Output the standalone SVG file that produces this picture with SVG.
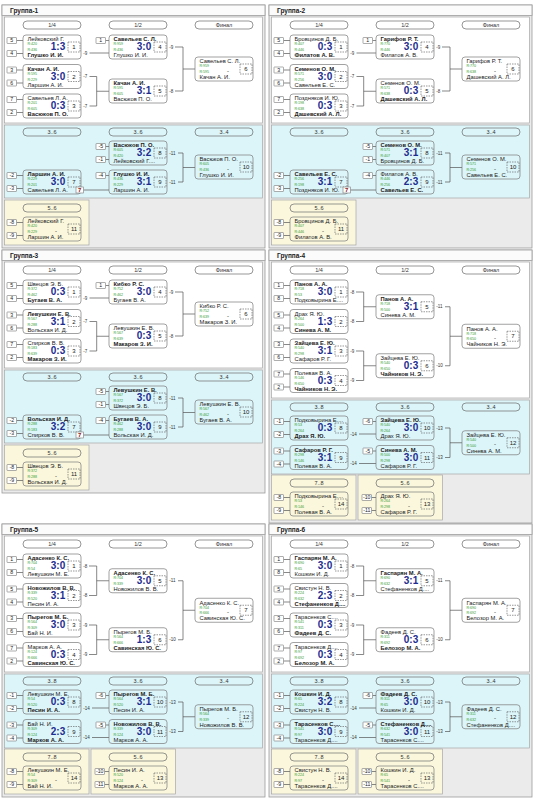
<svg xmlns="http://www.w3.org/2000/svg" xmlns:xlink="http://www.w3.org/1999/xlink" width="534" height="800" viewBox="0 0 534 800">
<style>
text{font-family:"Liberation Sans",Arial,sans-serif;fill:#222}
.bg{fill:#fff}
.fr{fill:#ebebeb;stroke:#9c9c9c;stroke-width:.8}
.hd{fill:#fbfbfb;stroke:#9c9c9c;stroke-width:.8}
.ti{font-size:6.5px;font-weight:bold}
.pw{fill:#fff;stroke:#a5a5a5;stroke-width:.7}
.pb{fill:#dcf5f9;stroke:#a5a5a5;stroke-width:.7}
.py{fill:#fbf7dc;stroke:#a5a5a5;stroke-width:.7}
.pl{fill:none;stroke:#6a6a6a;stroke-width:.7}
.pt{font-size:5.5px;text-anchor:middle;fill:#333}
.mb{fill:none;stroke:#7a7a7a;stroke-width:.7}
.nb{fill:none;stroke:#555;stroke-width:.6;stroke-dasharray:1.5 1}
.sb{fill:#fff;stroke:#777;stroke-width:.6}
.st{font-size:5.2px;text-anchor:middle}
.n{font-size:5.8px}
.b{font-weight:bold}
.r{font-size:3.6px;fill:#2e9a2e}
.s{font-size:10px;font-weight:bold;fill:#1d2c8f;text-anchor:middle}
.nn{font-size:6px;text-anchor:middle}
.d{font-size:6px;text-anchor:middle}
.c{fill:none;stroke:#555;stroke-width:.7}
.l{font-size:4.5px;fill:#333}
.w7{font-size:6px;font-weight:bold;fill:#8b1c1c;text-anchor:middle}
</style>
<defs>
<rect id="mb" class="mb" width="58" height="24" rx="3"/>
<rect id="nb" class="nb" x="45" y="7" width="12" height="10"/>
<rect id="sb" class="sb" width="9.5" height="6" rx="0.5"/>
<rect id="pl" class="pl" width="58" height="8" rx="4"/>
</defs>
<rect class="bg" width="534" height="800"/>

<!-- ================= GROUP 1 ================= -->
<g id="group1" transform="translate(2,5)">
<rect class="fr" width="263" height="243"/>
<rect class="hd" width="263" height="10.5"/>
<text class="ti" x="8" y="8">Группа-1</text>
<rect class="pw" x="2.5" y="12" width="258" height="106"/>
<rect class="pb" x="2.5" y="120" width="258" height="73"/>
<rect class="py" x="2.5" y="195" width="84.5" height="45"/>
<g id="g1-rounds">
<use href="#pl" x="21" y="16"/><text class="pt" x="50" y="22">1/4</text>
<use href="#pl" x="107" y="16"/><text class="pt" x="136" y="22">1/2</text>
<use href="#pl" x="193" y="16"/><text class="pt" x="222" y="22">Финал</text>
<use href="#pl" x="21" y="123"/><text class="pt" x="50" y="129">3..6</text>
<use href="#pl" x="107" y="123"/><text class="pt" x="136" y="129">3..6</text>
<use href="#pl" x="193" y="123"/><text class="pt" x="222" y="129">3..4</text>
<use href="#pl" x="21" y="199"/><text class="pt" x="50" y="205">5..6</text>
</g>
<g id="g1-connectors">
<path class="c" d="M14.5 35.5H21M14.5 48.5H21M14.5 65H21M14.5 78H21M14.5 94.5H21M14.5 107.5H21M103.5 35.5H107M14.5 170.5H21M14.5 183.5H21M103.5 141.5H107M103.5 154.5H107M103.5 170.5H107M14.5 217.5H21M14.5 230.5H21"/>
<path class="c" d="M87.5 48H107M87.5 71.5H94.7V101H87.5M94.7 86.25H107M173 42H181V86H173M181 64H193M81.5 185H107M176 148H181V177H176M181 162.5H193"/>
<text class="l" x="81.3" y="49.5">-9</text><text class="l" x="81.3" y="73">-7</text><text class="l" x="81.3" y="102.5">-7</text>
<text class="l" x="167.3" y="43.5">-9</text><text class="l" x="167.3" y="87.5">-8</text>
<text class="l" x="167.3" y="149.5">-11</text><text class="l" x="167.3" y="178.5">-11</text>
</g>
<g id="g1-m1" transform="translate(21,30)"><use href="#mb"/><use href="#nb"/><text class="nn" x="51" y="14.2">1</text><text class="n" x="4.5" y="6.3">Лейковский Г.</text><text class="r" x="4.5" y="10.3">R:420</text><text class="r" x="4.5" y="16">R:436</text><text class="s" x="35" y="15.3">1:3</text><text class="n b" x="4.5" y="22">Глушко И. И.</text><use href="#sb" x="-16" y="2.5"/><text class="st" x="-11.25" y="7.3">5</text><use href="#sb" x="-16" y="15.5"/><text class="st" x="-11.25" y="20.3">4</text></g>
<g id="g1-m2" transform="translate(21,59.5)"><use href="#mb"/><use href="#nb"/><text class="nn" x="51" y="14.2">2</text><text class="n b" x="4.5" y="6.3">Качан А. И.</text><text class="r" x="4.5" y="10.3">R:595</text><text class="r" x="4.5" y="16">R:229</text><text class="s" x="35" y="15.3">3:0</text><text class="n" x="4.5" y="22">Ларшин А. И.</text><use href="#sb" x="-16" y="2.5"/><text class="st" x="-11.25" y="7.3">3</text><use href="#sb" x="-16" y="15.5"/><text class="st" x="-11.25" y="20.3">6</text></g>
<g id="g1-m3" transform="translate(21,89)"><use href="#mb"/><use href="#nb"/><text class="nn" x="51" y="14.2">3</text><text class="n" x="4.5" y="6.3">Савельев Л. А.</text><text class="r" x="4.5" y="10.3">R:201</text><text class="r" x="4.5" y="16">R:605</text><text class="s" x="35" y="15.3">0:3</text><text class="n b" x="4.5" y="22">Васюков П. О.</text><use href="#sb" x="-16" y="2.5"/><text class="st" x="-11.25" y="7.3">7</text><use href="#sb" x="-16" y="15.5"/><text class="st" x="-11.25" y="20.3">2</text></g>
<g id="g1-m4" transform="translate(107,30)"><use href="#mb"/><use href="#nb"/><text class="nn" x="51" y="14.2">4</text><text class="n b" x="4.5" y="6.3">Савельев С. Л.</text><text class="r" x="4.5" y="10.3">R:959</text><text class="r" x="4.5" y="16">R:436</text><text class="s" x="35" y="15.3">3:0</text><text class="n" x="4.5" y="22">Глушко И. И.</text><use href="#sb" x="-13" y="2.5"/><text class="st" x="-8.25" y="7.3">1</text></g>
<g id="g1-m5" transform="translate(107,74)"><use href="#mb"/><use href="#nb"/><text class="nn" x="51" y="14.2">5</text><text class="n b" x="4.5" y="6.3">Качан А. И.</text><text class="r" x="4.5" y="10.3">R:595</text><text class="r" x="4.5" y="16">R:605</text><text class="s" x="35" y="15.3">3:1</text><text class="n" x="4.5" y="22">Васюков П. О.</text></g>
<g id="g1-m6" transform="translate(193,52)"><use href="#mb"/><use href="#nb"/><text class="nn" x="51" y="14.2">6</text><text class="n" x="4.5" y="6.3">Савельев С. Л.</text><text class="r" x="4.5" y="10.3">R:959</text><text class="r" x="4.5" y="16">R:595</text><text class="d" x="33" y="15.5">-</text><text class="n" x="4.5" y="22">Качан А. И.</text></g>
<g id="g1-m7" transform="translate(21,165)"><use href="#mb"/><use href="#nb"/><text class="nn" x="51" y="14.2">7</text><text class="n b" x="4.5" y="6.3">Ларшин А. И.</text><text class="r" x="4.5" y="10.3">R:229</text><text class="r" x="4.5" y="16">R:201</text><text class="s" x="35" y="15.3">3:0</text><text class="n" x="4.5" y="22">Савельев Л. А.</text><use href="#sb" x="-16" y="2.5"/><text class="st" x="-11.25" y="7.3">-2</text><use href="#sb" x="-16" y="15.5"/><text class="st" x="-11.25" y="20.3">-3</text></g>
<g id="g1-w7"><rect class="sb" x="74" y="182" width="7.5" height="6"/><text class="w7" x="77.75" y="187">7</text></g>
<g id="g1-m8" transform="translate(107,136)"><use href="#mb"/><use href="#nb"/><text class="nn" x="51" y="14.2">8</text><text class="n b" x="4.5" y="6.3">Васюков П. О.</text><text class="r" x="4.5" y="10.3">R:605</text><text class="r" x="4.5" y="16">R:420</text><text class="s" x="35" y="15.3">3:2</text><text class="n" x="4.5" y="22">Лейковский Г....</text><use href="#sb" x="-13" y="2.5"/><text class="st" x="-8.25" y="7.3">-5</text><use href="#sb" x="-13" y="15.5"/><text class="st" x="-8.25" y="20.3">-1</text></g>
<g id="g1-m9" transform="translate(107,165)"><use href="#mb"/><use href="#nb"/><text class="nn" x="51" y="14.2">9</text><text class="n b" x="4.5" y="6.3">Глушко И. И.</text><text class="r" x="4.5" y="10.3">R:436</text><text class="r" x="4.5" y="16">R:229</text><text class="s" x="35" y="15.3">3:1</text><text class="n" x="4.5" y="22">Ларшин А. И.</text><use href="#sb" x="-13" y="2.5"/><text class="st" x="-8.25" y="7.3">-4</text></g>
<g id="g1-m10" transform="translate(193,150)"><use href="#mb"/><use href="#nb"/><text class="nn" x="51" y="14.2">10</text><text class="n" x="4.5" y="6.3">Васюков П. О.</text><text class="r" x="4.5" y="10.3">R:605</text><text class="r" x="4.5" y="16">R:436</text><text class="d" x="33" y="15.5">-</text><text class="n" x="4.5" y="22">Глушко И. И.</text></g>
<g id="g1-m11" transform="translate(21,212)"><use href="#mb"/><use href="#nb"/><text class="nn" x="51" y="14.2">11</text><text class="n" x="4.5" y="6.3">Лейковский Г.</text><text class="r" x="4.5" y="10.3">R:420</text><text class="r" x="4.5" y="16">R:229</text><text class="d" x="33" y="15.5">-</text><text class="n" x="4.5" y="22">Ларшин А. И.</text><use href="#sb" x="-16" y="2.5"/><text class="st" x="-11.25" y="7.3">-8</text><use href="#sb" x="-16" y="15.5"/><text class="st" x="-11.25" y="20.3">-9</text></g>
</g>

<!-- ================= GROUP 2 ================= -->
<g id="group2" transform="translate(269,5)">
<rect class="fr" width="263" height="243"/>
<rect class="hd" width="263" height="10.5"/>
<text class="ti" x="8" y="8">Группа-2</text>
<rect class="pw" x="2.5" y="12" width="258" height="106"/>
<rect class="pb" x="2.5" y="120" width="258" height="73"/>
<rect class="py" x="2.5" y="195" width="84.5" height="45"/>
<g id="g2-rounds">
<use href="#pl" x="21" y="16"/><text class="pt" x="50" y="22">1/4</text>
<use href="#pl" x="107" y="16"/><text class="pt" x="136" y="22">1/2</text>
<use href="#pl" x="193" y="16"/><text class="pt" x="222" y="22">Финал</text>
<use href="#pl" x="21" y="123"/><text class="pt" x="50" y="129">3..6</text>
<use href="#pl" x="107" y="123"/><text class="pt" x="136" y="129">3..6</text>
<use href="#pl" x="193" y="123"/><text class="pt" x="222" y="129">3..4</text>
<use href="#pl" x="21" y="199"/><text class="pt" x="50" y="205">5..6</text>
</g>
<g id="g2-connectors">
<path class="c" d="M14.5 35.5H21M14.5 48.5H21M14.5 65H21M14.5 78H21M14.5 94.5H21M14.5 107.5H21M103.5 35.5H107M14.5 170.5H21M14.5 183.5H21M103.5 141.5H107M103.5 154.5H107M103.5 170.5H107M14.5 217.5H21M14.5 230.5H21"/>
<path class="c" d="M87.5 48H107M87.5 71.5H94.7V101H87.5M94.7 86.25H107M173 42H181V86H173M181 64H193M81.5 185H107M176 148H181V177H176M181 162.5H193"/>
<text class="l" x="81.3" y="49.5">-9</text><text class="l" x="81.3" y="73">-7</text><text class="l" x="81.3" y="102.5">-7</text>
<text class="l" x="167.3" y="43.5">-9</text><text class="l" x="167.3" y="87.5">-8</text>
<text class="l" x="167.3" y="149.5">-11</text><text class="l" x="167.3" y="178.5">-11</text>
</g>
<g id="g2-m1" transform="translate(21,30)"><use href="#mb"/><use href="#nb"/><text class="nn" x="51" y="14.2">1</text><text class="n" x="4.5" y="6.3">Бровцинов Д. Б.</text><text class="r" x="4.5" y="10.3">R:407</text><text class="r" x="4.5" y="16">R:446</text><text class="s" x="35" y="15.3">0:3</text><text class="n b" x="4.5" y="22">Филатов А. В.</text><use href="#sb" x="-16" y="2.5"/><text class="st" x="-11.25" y="7.3">5</text><use href="#sb" x="-16" y="15.5"/><text class="st" x="-11.25" y="20.3">4</text></g>
<g id="g2-m2" transform="translate(21,59.5)"><use href="#mb"/><use href="#nb"/><text class="nn" x="51" y="14.2">2</text><text class="n b" x="4.5" y="6.3">Семенов О. М.</text><text class="r" x="4.5" y="10.3">R:571</text><text class="r" x="4.5" y="16">R:256</text><text class="s" x="35" y="15.3">3:0</text><text class="n" x="4.5" y="22">Савельев Е. С.</text><use href="#sb" x="-16" y="2.5"/><text class="st" x="-11.25" y="7.3">3</text><use href="#sb" x="-16" y="15.5"/><text class="st" x="-11.25" y="20.3">6</text></g>
<g id="g2-m3" transform="translate(21,89)"><use href="#mb"/><use href="#nb"/><text class="nn" x="51" y="14.2">3</text><text class="n" x="4.5" y="6.3">Поздняков И. Ю.</text><text class="r" x="4.5" y="10.3">R:198</text><text class="r" x="4.5" y="16">R:638</text><text class="s" x="35" y="15.3">0:3</text><text class="n b" x="4.5" y="22">Дашевский А. Л.</text><use href="#sb" x="-16" y="2.5"/><text class="st" x="-11.25" y="7.3">7</text><use href="#sb" x="-16" y="15.5"/><text class="st" x="-11.25" y="20.3">2</text></g>
<g id="g2-m4" transform="translate(107,30)"><use href="#mb"/><use href="#nb"/><text class="nn" x="51" y="14.2">4</text><text class="n b" x="4.5" y="6.3">Гарифов Р. Т.</text><text class="r" x="4.5" y="10.3">R:770</text><text class="r" x="4.5" y="16">R:446</text><text class="s" x="35" y="15.3">3:0</text><text class="n" x="4.5" y="22">Филатов А. В.</text><use href="#sb" x="-13" y="2.5"/><text class="st" x="-8.25" y="7.3">1</text></g>
<g id="g2-m5" transform="translate(107,74)"><use href="#mb"/><use href="#nb"/><text class="nn" x="51" y="14.2">5</text><text class="n" x="4.5" y="6.3">Семенов О. М.</text><text class="r" x="4.5" y="10.3">R:571</text><text class="r" x="4.5" y="16">R:638</text><text class="s" x="35" y="15.3">0:3</text><text class="n b" x="4.5" y="22">Дашевский А. Л.</text></g>
<g id="g2-m6" transform="translate(193,52)"><use href="#mb"/><use href="#nb"/><text class="nn" x="51" y="14.2">6</text><text class="n" x="4.5" y="6.3">Гарифов Р. Т.</text><text class="r" x="4.5" y="10.3">R:770</text><text class="r" x="4.5" y="16">R:638</text><text class="d" x="33" y="15.5">-</text><text class="n" x="4.5" y="22">Дашевский А. Л.</text></g>
<g id="g2-m7" transform="translate(21,165)"><use href="#mb"/><use href="#nb"/><text class="nn" x="51" y="14.2">7</text><text class="n b" x="4.5" y="6.3">Савельев Е. С.</text><text class="r" x="4.5" y="10.3">R:256</text><text class="r" x="4.5" y="16">R:198</text><text class="s" x="35" y="15.3">3:1</text><text class="n" x="4.5" y="22">Поздняков И. Ю.</text><use href="#sb" x="-16" y="2.5"/><text class="st" x="-11.25" y="7.3">-2</text><use href="#sb" x="-16" y="15.5"/><text class="st" x="-11.25" y="20.3">-3</text></g>
<g id="g2-w7"><rect class="sb" x="74" y="182" width="7.5" height="6"/><text class="w7" x="77.75" y="187">7</text></g>
<g id="g2-m8" transform="translate(107,136)"><use href="#mb"/><use href="#nb"/><text class="nn" x="51" y="14.2">8</text><text class="n b" x="4.5" y="6.3">Семенов О. М.</text><text class="r" x="4.5" y="10.3">R:571</text><text class="r" x="4.5" y="16">R:407</text><text class="s" x="35" y="15.3">3:1</text><text class="n" x="4.5" y="22">Бровцинов Д. Б.</text><use href="#sb" x="-13" y="2.5"/><text class="st" x="-8.25" y="7.3">-5</text><use href="#sb" x="-13" y="15.5"/><text class="st" x="-8.25" y="20.3">-1</text></g>
<g id="g2-m9" transform="translate(107,165)"><use href="#mb"/><use href="#nb"/><text class="nn" x="51" y="14.2">9</text><text class="n" x="4.5" y="6.3">Филатов А. В.</text><text class="r" x="4.5" y="10.3">R:446</text><text class="r" x="4.5" y="16">R:256</text><text class="s" x="35" y="15.3">2:3</text><text class="n b" x="4.5" y="22">Савельев Е. С.</text><use href="#sb" x="-13" y="2.5"/><text class="st" x="-8.25" y="7.3">-4</text></g>
<g id="g2-m10" transform="translate(193,150)"><use href="#mb"/><use href="#nb"/><text class="nn" x="51" y="14.2">10</text><text class="n" x="4.5" y="6.3">Семенов О. М.</text><text class="r" x="4.5" y="10.3">R:571</text><text class="r" x="4.5" y="16">R:256</text><text class="d" x="33" y="15.5">-</text><text class="n" x="4.5" y="22">Савельев Е. С.</text></g>
<g id="g2-m11" transform="translate(21,212)"><use href="#mb"/><use href="#nb"/><text class="nn" x="51" y="14.2">11</text><text class="n" x="4.5" y="6.3">Бровцинов Д. Б.</text><text class="r" x="4.5" y="10.3">R:407</text><text class="r" x="4.5" y="16">R:446</text><text class="d" x="33" y="15.5">-</text><text class="n" x="4.5" y="22">Филатов А. В.</text><use href="#sb" x="-16" y="2.5"/><text class="st" x="-11.25" y="7.3">-8</text><use href="#sb" x="-16" y="15.5"/><text class="st" x="-11.25" y="20.3">-9</text></g>
</g>

<!-- ================= GROUP 3 ================= -->
<g id="group3" transform="translate(2,250)">
<rect class="fr" width="263" height="243"/>
<rect class="hd" width="263" height="10.5"/>
<text class="ti" x="8" y="8">Группа-3</text>
<rect class="pw" x="2.5" y="12" width="258" height="106"/>
<rect class="pb" x="2.5" y="120" width="258" height="73"/>
<rect class="py" x="2.5" y="195" width="84.5" height="45"/>
<g id="g3-rounds">
<use href="#pl" x="21" y="16"/><text class="pt" x="50" y="22">1/4</text>
<use href="#pl" x="107" y="16"/><text class="pt" x="136" y="22">1/2</text>
<use href="#pl" x="193" y="16"/><text class="pt" x="222" y="22">Финал</text>
<use href="#pl" x="21" y="123"/><text class="pt" x="50" y="129">3..6</text>
<use href="#pl" x="107" y="123"/><text class="pt" x="136" y="129">3..6</text>
<use href="#pl" x="193" y="123"/><text class="pt" x="222" y="129">3..4</text>
<use href="#pl" x="21" y="199"/><text class="pt" x="50" y="205">5..6</text>
</g>
<g id="g3-connectors">
<path class="c" d="M14.5 35.5H21M14.5 48.5H21M14.5 65H21M14.5 78H21M14.5 94.5H21M14.5 107.5H21M103.5 35.5H107M14.5 170.5H21M14.5 183.5H21M103.5 141.5H107M103.5 154.5H107M103.5 170.5H107M14.5 217.5H21M14.5 230.5H21"/>
<path class="c" d="M87.5 48H107M87.5 71.5H94.7V101H87.5M94.7 86.25H107M173 42H181V86H173M181 64H193M81.5 185H107M176 148H181V177H176M181 162.5H193"/>
<text class="l" x="81.3" y="49.5">-9</text><text class="l" x="81.3" y="73">-7</text><text class="l" x="81.3" y="102.5">-7</text>
<text class="l" x="167.3" y="43.5">-9</text><text class="l" x="167.3" y="87.5">-8</text>
<text class="l" x="167.3" y="149.5">-11</text><text class="l" x="167.3" y="178.5">-11</text>
</g>
<g id="g3-m1" transform="translate(21,30)"><use href="#mb"/><use href="#nb"/><text class="nn" x="51" y="14.2">1</text><text class="n" x="4.5" y="6.3">Швецов Э. Б.</text><text class="r" x="4.5" y="10.3">R:372</text><text class="r" x="4.5" y="16">R:462</text><text class="s" x="35" y="15.3">0:3</text><text class="n b" x="4.5" y="22">Бугаев В. А.</text><use href="#sb" x="-16" y="2.5"/><text class="st" x="-11.25" y="7.3">5</text><use href="#sb" x="-16" y="15.5"/><text class="st" x="-11.25" y="20.3">4</text></g>
<g id="g3-m2" transform="translate(21,59.5)"><use href="#mb"/><use href="#nb"/><text class="nn" x="51" y="14.2">2</text><text class="n b" x="4.5" y="6.3">Левушкин Е. В.</text><text class="r" x="4.5" y="10.3">R:567</text><text class="r" x="4.5" y="16">R:288</text><text class="s" x="35" y="15.3">3:1</text><text class="n" x="4.5" y="22">Вольская И. Д.</text><use href="#sb" x="-16" y="2.5"/><text class="st" x="-11.25" y="7.3">3</text><use href="#sb" x="-16" y="15.5"/><text class="st" x="-11.25" y="20.3">6</text></g>
<g id="g3-m3" transform="translate(21,89)"><use href="#mb"/><use href="#nb"/><text class="nn" x="51" y="14.2">3</text><text class="n" x="4.5" y="6.3">Спирков В. В.</text><text class="r" x="4.5" y="10.3">R:183</text><text class="r" x="4.5" y="16">R:639</text><text class="s" x="35" y="15.3">0:3</text><text class="n b" x="4.5" y="22">Макаров З. И.</text><use href="#sb" x="-16" y="2.5"/><text class="st" x="-11.25" y="7.3">7</text><use href="#sb" x="-16" y="15.5"/><text class="st" x="-11.25" y="20.3">2</text></g>
<g id="g3-m4" transform="translate(107,30)"><use href="#mb"/><use href="#nb"/><text class="nn" x="51" y="14.2">4</text><text class="n b" x="4.5" y="6.3">Кибко Р. С.</text><text class="r" x="4.5" y="10.3">R:752</text><text class="r" x="4.5" y="16">R:462</text><text class="s" x="35" y="15.3">3:0</text><text class="n" x="4.5" y="22">Бугаев В. А.</text><use href="#sb" x="-13" y="2.5"/><text class="st" x="-8.25" y="7.3">1</text></g>
<g id="g3-m5" transform="translate(107,74)"><use href="#mb"/><use href="#nb"/><text class="nn" x="51" y="14.2">5</text><text class="n" x="4.5" y="6.3">Левушкин Е. В.</text><text class="r" x="4.5" y="10.3">R:567</text><text class="r" x="4.5" y="16">R:639</text><text class="s" x="35" y="15.3">0:3</text><text class="n b" x="4.5" y="22">Макаров З. И.</text></g>
<g id="g3-m6" transform="translate(193,52)"><use href="#mb"/><use href="#nb"/><text class="nn" x="51" y="14.2">6</text><text class="n" x="4.5" y="6.3">Кибко Р. С.</text><text class="r" x="4.5" y="10.3">R:752</text><text class="r" x="4.5" y="16">R:639</text><text class="d" x="33" y="15.5">-</text><text class="n" x="4.5" y="22">Макаров З. И.</text></g>
<g id="g3-m7" transform="translate(21,165)"><use href="#mb"/><use href="#nb"/><text class="nn" x="51" y="14.2">7</text><text class="n b" x="4.5" y="6.3">Вольская И. Д.</text><text class="r" x="4.5" y="10.3">R:288</text><text class="r" x="4.5" y="16">R:183</text><text class="s" x="35" y="15.3">3:2</text><text class="n" x="4.5" y="22">Спирков В. В.</text><use href="#sb" x="-16" y="2.5"/><text class="st" x="-11.25" y="7.3">-2</text><use href="#sb" x="-16" y="15.5"/><text class="st" x="-11.25" y="20.3">-3</text></g>
<g id="g3-w7"><rect class="sb" x="74" y="182" width="7.5" height="6"/><text class="w7" x="77.75" y="187">7</text></g>
<g id="g3-m8" transform="translate(107,136)"><use href="#mb"/><use href="#nb"/><text class="nn" x="51" y="14.2">8</text><text class="n b" x="4.5" y="6.3">Левушкин Е. В.</text><text class="r" x="4.5" y="10.3">R:567</text><text class="r" x="4.5" y="16">R:372</text><text class="s" x="35" y="15.3">3:0</text><text class="n" x="4.5" y="22">Швецов Э. Б.</text><use href="#sb" x="-13" y="2.5"/><text class="st" x="-8.25" y="7.3">-5</text><use href="#sb" x="-13" y="15.5"/><text class="st" x="-8.25" y="20.3">-1</text></g>
<g id="g3-m9" transform="translate(107,165)"><use href="#mb"/><use href="#nb"/><text class="nn" x="51" y="14.2">9</text><text class="n b" x="4.5" y="6.3">Бугаев В. А.</text><text class="r" x="4.5" y="10.3">R:462</text><text class="r" x="4.5" y="16">R:288</text><text class="s" x="35" y="15.3">3:0</text><text class="n" x="4.5" y="22">Вольская И. Д.</text><use href="#sb" x="-13" y="2.5"/><text class="st" x="-8.25" y="7.3">-4</text></g>
<g id="g3-m10" transform="translate(193,150)"><use href="#mb"/><use href="#nb"/><text class="nn" x="51" y="14.2">10</text><text class="n" x="4.5" y="6.3">Левушкин Е. В.</text><text class="r" x="4.5" y="10.3">R:567</text><text class="r" x="4.5" y="16">R:462</text><text class="d" x="33" y="15.5">-</text><text class="n" x="4.5" y="22">Бугаев В. А.</text></g>
<g id="g3-m11" transform="translate(21,212)"><use href="#mb"/><use href="#nb"/><text class="nn" x="51" y="14.2">11</text><text class="n" x="4.5" y="6.3">Швецов Э. Б.</text><text class="r" x="4.5" y="10.3">R:372</text><text class="r" x="4.5" y="16">R:288</text><text class="d" x="33" y="15.5">-</text><text class="n" x="4.5" y="22">Вольская И. Д.</text><use href="#sb" x="-16" y="2.5"/><text class="st" x="-11.25" y="7.3">-8</text><use href="#sb" x="-16" y="15.5"/><text class="st" x="-11.25" y="20.3">-9</text></g>
</g>

<!-- ================= GROUP 4 ================= -->
<g id="group4" transform="translate(269,250)">
<rect class="fr" width="263" height="273"/>
<rect class="hd" width="263" height="10.5"/>
<text class="ti" x="8" y="8">Группа-4</text>
<rect class="pw" x="2.5" y="12" width="258" height="136"/>
<rect class="pb" x="2.5" y="150" width="258" height="74"/>
<rect class="py" x="2.5" y="225" width="84.5" height="45"/>
<rect class="py" x="89" y="225" width="84.5" height="45"/>
<g id="g4-rounds">
<use href="#pl" x="21" y="16"/><text class="pt" x="50" y="22">1/4</text>
<use href="#pl" x="107" y="16"/><text class="pt" x="136" y="22">1/2</text>
<use href="#pl" x="193" y="16"/><text class="pt" x="222" y="22">Финал</text>
<use href="#pl" x="21" y="153"/><text class="pt" x="50" y="159">3..8</text>
<use href="#pl" x="107" y="153"/><text class="pt" x="136" y="159">3..6</text>
<use href="#pl" x="193" y="153"/><text class="pt" x="222" y="159">3..4</text>
<use href="#pl" x="21" y="229"/><text class="pt" x="50" y="235">7..8</text>
<use href="#pl" x="107" y="229"/><text class="pt" x="136" y="235">5..6</text>
</g>
<g id="g4-connectors">
<path class="c" d="M14.5 35.5H21M14.5 48.5H21M14.5 65H21M14.5 78H21M14.5 94.5H21M14.5 107.5H21M14.5 124H21M14.5 137H21M14.5 171.5H21M14.5 184.5H21M14.5 201H21M14.5 214H21M103.5 171.5H107M103.5 201H107M14.5 247.5H21M14.5 260.5H21M102.5 247.5H107M102.5 260.5H107"/>
<path class="c" d="M87 42H94.7V71.5H87M94.7 56.75H107M87 101H94.7V130.5H87M94.7 115.75H107M176 56.75H181V115.75H176M181 86.25H193M90 184H107M90 213.5H107M176 178H181V207.5H176M181 192.75H193"/>
<text class="l" x="81.3" y="43.5">-8</text><text class="l" x="81.3" y="73">-8</text><text class="l" x="81.3" y="102.5">-9</text><text class="l" x="81.3" y="132">-9</text>
<text class="l" x="167.3" y="58.25">-11</text><text class="l" x="167.3" y="117.25">-10</text>
<text class="l" x="81.3" y="185.5">-14</text><text class="l" x="81.3" y="215">-14</text>
<text class="l" x="167.3" y="179.5">-13</text><text class="l" x="167.3" y="209">-13</text>
</g>
<g id="g4-m1" transform="translate(21,30)"><use href="#mb"/><use href="#nb"/><text class="nn" x="51" y="14.2">1</text><text class="n b" x="4.5" y="6.3">Панов А. А.</text><text class="r" x="4.5" y="10.3">R:718</text><text class="r" x="4.5" y="16">R:53</text><text class="s" x="35" y="15.3">3:0</text><text class="n" x="4.5" y="22">Подковырина Е....</text><use href="#sb" x="-16" y="2.5"/><text class="st" x="-11.25" y="7.3">1</text><use href="#sb" x="-16" y="15.5"/><text class="st" x="-11.25" y="20.3">8</text></g>
<g id="g4-m2" transform="translate(21,59.5)"><use href="#mb"/><use href="#nb"/><text class="nn" x="51" y="14.2">2</text><text class="n" x="4.5" y="6.3">Драх Я. Ю.</text><text class="r" x="4.5" y="10.3">R:264</text><text class="r" x="4.5" y="16">R:500</text><text class="s" x="35" y="15.3">1:3</text><text class="n b" x="4.5" y="22">Синева А. М.</text><use href="#sb" x="-16" y="2.5"/><text class="st" x="-11.25" y="7.3">5</text><use href="#sb" x="-16" y="15.5"/><text class="st" x="-11.25" y="20.3">4</text></g>
<g id="g4-m3" transform="translate(21,89)"><use href="#mb"/><use href="#nb"/><text class="nn" x="51" y="14.2">3</text><text class="n b" x="4.5" y="6.3">Зайцева Е. Ю.</text><text class="r" x="4.5" y="10.3">R:540</text><text class="r" x="4.5" y="16">R:298</text><text class="s" x="35" y="15.3">3:1</text><text class="n" x="4.5" y="22">Сафаров Р. Г.</text><use href="#sb" x="-16" y="2.5"/><text class="st" x="-11.25" y="7.3">3</text><use href="#sb" x="-16" y="15.5"/><text class="st" x="-11.25" y="20.3">6</text></g>
<g id="g4-m4" transform="translate(21,118.5)"><use href="#mb"/><use href="#nb"/><text class="nn" x="51" y="14.2">4</text><text class="n" x="4.5" y="6.3">Полевая В. А.</text><text class="r" x="4.5" y="10.3">R:146</text><text class="r" x="4.5" y="16">R:650</text><text class="s" x="35" y="15.3">0:3</text><text class="n b" x="4.5" y="22">Чайников Н. Э.</text><use href="#sb" x="-16" y="2.5"/><text class="st" x="-11.25" y="7.3">7</text><use href="#sb" x="-16" y="15.5"/><text class="st" x="-11.25" y="20.3">2</text></g>
<g id="g4-m5" transform="translate(107,44.75)"><use href="#mb"/><use href="#nb"/><text class="nn" x="51" y="14.2">5</text><text class="n b" x="4.5" y="6.3">Панов А. А.</text><text class="r" x="4.5" y="10.3">R:718</text><text class="r" x="4.5" y="16">R:500</text><text class="s" x="35" y="15.3">3:1</text><text class="n" x="4.5" y="22">Синева А. М.</text></g>
<g id="g4-m6" transform="translate(107,103.75)"><use href="#mb"/><use href="#nb"/><text class="nn" x="51" y="14.2">6</text><text class="n" x="4.5" y="6.3">Зайцева Е. Ю.</text><text class="r" x="4.5" y="10.3">R:540</text><text class="r" x="4.5" y="16">R:650</text><text class="s" x="35" y="15.3">0:3</text><text class="n b" x="4.5" y="22">Чайников Н. Э.</text></g>
<g id="g4-m7" transform="translate(193,74.25)"><use href="#mb"/><use href="#nb"/><text class="nn" x="51" y="14.2">7</text><text class="n" x="4.5" y="6.3">Панов А. А.</text><text class="r" x="4.5" y="10.3">R:718</text><text class="r" x="4.5" y="16">R:650</text><text class="d" x="33" y="15.5">-</text><text class="n" x="4.5" y="22">Чайников Н. Э.</text></g>
<g id="g4-m8" transform="translate(21,166)"><use href="#mb"/><use href="#nb"/><text class="nn" x="51" y="14.2">8</text><text class="n" x="4.5" y="6.3">Подковырина Е....</text><text class="r" x="4.5" y="10.3">R:53</text><text class="r" x="4.5" y="16">R:264</text><text class="s" x="35" y="15.3">0:3</text><text class="n b" x="4.5" y="22">Драх Я. Ю.</text><use href="#sb" x="-16" y="2.5"/><text class="st" x="-11.25" y="7.3">-1</text><use href="#sb" x="-16" y="15.5"/><text class="st" x="-11.25" y="20.3">-2</text></g>
<g id="g4-m9" transform="translate(21,195.5)"><use href="#mb"/><use href="#nb"/><text class="nn" x="51" y="14.2">9</text><text class="n b" x="4.5" y="6.3">Сафаров Р. Г.</text><text class="r" x="4.5" y="10.3">R:298</text><text class="r" x="4.5" y="16">R:146</text><text class="s" x="35" y="15.3">3:1</text><text class="n" x="4.5" y="22">Полевая В. А.</text><use href="#sb" x="-16" y="2.5"/><text class="st" x="-11.25" y="7.3">-3</text><use href="#sb" x="-16" y="15.5"/><text class="st" x="-11.25" y="20.3">-4</text></g>
<g id="g4-m10" transform="translate(107,166)"><use href="#mb"/><use href="#nb"/><text class="nn" x="51" y="14.2">10</text><text class="n b" x="4.5" y="6.3">Зайцева Е. Ю.</text><text class="r" x="4.5" y="10.3">R:540</text><text class="r" x="4.5" y="16">R:264</text><text class="s" x="35" y="15.3">3:0</text><text class="n" x="4.5" y="22">Драх Я. Ю.</text><use href="#sb" x="-13" y="2.5"/><text class="st" x="-8.25" y="7.3">-6</text></g>
<g id="g4-m11" transform="translate(107,195.5)"><use href="#mb"/><use href="#nb"/><text class="nn" x="51" y="14.2">11</text><text class="n b" x="4.5" y="6.3">Синева А. М.</text><text class="r" x="4.5" y="10.3">R:500</text><text class="r" x="4.5" y="16">R:298</text><text class="s" x="35" y="15.3">3:0</text><text class="n" x="4.5" y="22">Сафаров Р. Г.</text><use href="#sb" x="-13" y="2.5"/><text class="st" x="-8.25" y="7.3">-5</text></g>
<g id="g4-m12" transform="translate(193,180.75)"><use href="#mb"/><use href="#nb"/><text class="nn" x="51" y="14.2">12</text><text class="n" x="4.5" y="6.3">Зайцева Е. Ю.</text><text class="r" x="4.5" y="10.3">R:540</text><text class="r" x="4.5" y="16">R:500</text><text class="d" x="33" y="15.5">-</text><text class="n" x="4.5" y="22">Синева А. М.</text></g>
<g id="g4-m14" transform="translate(21,242)"><use href="#mb"/><use href="#nb"/><text class="nn" x="51" y="14.2">14</text><text class="n" x="4.5" y="6.3">Подковырина Е....</text><text class="r" x="4.5" y="10.3">R:53</text><text class="r" x="4.5" y="16">R:146</text><text class="d" x="33" y="15.5">-</text><text class="n" x="4.5" y="22">Полевая В. А.</text><use href="#sb" x="-16" y="2.5"/><text class="st" x="-11.25" y="7.3">-8</text><use href="#sb" x="-16" y="15.5"/><text class="st" x="-11.25" y="20.3">-9</text></g>
<g id="g4-m13" transform="translate(107,242)"><use href="#mb"/><use href="#nb"/><text class="nn" x="51" y="14.2">13</text><text class="n" x="4.5" y="6.3">Драх Я. Ю.</text><text class="r" x="4.5" y="10.3">R:264</text><text class="r" x="4.5" y="16">R:298</text><text class="d" x="33" y="15.5">-</text><text class="n" x="4.5" y="22">Сафаров Р. Г.</text><use href="#sb" x="-14" y="2.5"/><text class="st" x="-9.25" y="7.3">-10</text><use href="#sb" x="-14" y="15.5"/><text class="st" x="-9.25" y="20.3">-11</text></g>
</g>

<!-- ================= GROUP 5 ================= -->
<g id="group5" transform="translate(2,524)">
<rect class="fr" width="263" height="273"/>
<rect class="hd" width="263" height="10.5"/>
<text class="ti" x="8" y="8">Группа-5</text>
<rect class="pw" x="2.5" y="12" width="258" height="136"/>
<rect class="pb" x="2.5" y="150" width="258" height="74"/>
<rect class="py" x="2.5" y="225" width="84.5" height="45"/>
<rect class="py" x="89" y="225" width="84.5" height="45"/>
<g id="g5-rounds">
<use href="#pl" x="21" y="16"/><text class="pt" x="50" y="22">1/4</text>
<use href="#pl" x="107" y="16"/><text class="pt" x="136" y="22">1/2</text>
<use href="#pl" x="193" y="16"/><text class="pt" x="222" y="22">Финал</text>
<use href="#pl" x="21" y="153"/><text class="pt" x="50" y="159">3..8</text>
<use href="#pl" x="107" y="153"/><text class="pt" x="136" y="159">3..6</text>
<use href="#pl" x="193" y="153"/><text class="pt" x="222" y="159">3..4</text>
<use href="#pl" x="21" y="229"/><text class="pt" x="50" y="235">7..8</text>
<use href="#pl" x="107" y="229"/><text class="pt" x="136" y="235">5..6</text>
</g>
<g id="g5-connectors">
<path class="c" d="M14.5 35.5H21M14.5 48.5H21M14.5 65H21M14.5 78H21M14.5 94.5H21M14.5 107.5H21M14.5 124H21M14.5 137H21M14.5 171.5H21M14.5 184.5H21M14.5 201H21M14.5 214H21M103.5 171.5H107M103.5 201H107M14.5 247.5H21M14.5 260.5H21M102.5 247.5H107M102.5 260.5H107"/>
<path class="c" d="M87 42H94.7V71.5H87M94.7 56.75H107M87 101H94.7V130.5H87M94.7 115.75H107M176 56.75H181V115.75H176M181 86.25H193M90 184H107M90 213.5H107M176 178H181V207.5H176M181 192.75H193"/>
<text class="l" x="81.3" y="43.5">-8</text><text class="l" x="81.3" y="73">-8</text><text class="l" x="81.3" y="102.5">-9</text><text class="l" x="81.3" y="132">-9</text>
<text class="l" x="167.3" y="58.25">-11</text><text class="l" x="167.3" y="117.25">-10</text>
<text class="l" x="81.3" y="185.5">-14</text><text class="l" x="81.3" y="215">-14</text>
<text class="l" x="167.3" y="179.5">-13</text><text class="l" x="167.3" y="209">-13</text>
</g>
<g id="g5-m1" transform="translate(21,30)"><use href="#mb"/><use href="#nb"/><text class="nn" x="51" y="14.2">1</text><text class="n b" x="4.5" y="6.3">Адасенко К. С.</text><text class="r" x="4.5" y="10.3">R:704</text><text class="r" x="4.5" y="16">R:54</text><text class="s" x="35" y="15.3">3:0</text><text class="n" x="4.5" y="22">Левушкин М. Е.</text><use href="#sb" x="-16" y="2.5"/><text class="st" x="-11.25" y="7.3">1</text><use href="#sb" x="-16" y="15.5"/><text class="st" x="-11.25" y="20.3">8</text></g>
<g id="g5-m2" transform="translate(21,59.5)"><use href="#mb"/><use href="#nb"/><text class="nn" x="51" y="14.2">2</text><text class="n b" x="4.5" y="6.3">Новожилов В. В.</text><text class="r" x="4.5" y="10.3">R:339</text><text class="r" x="4.5" y="16">R:520</text><text class="s" x="35" y="15.3">3:1</text><text class="n" x="4.5" y="22">Песин И. А.</text><use href="#sb" x="-16" y="2.5"/><text class="st" x="-11.25" y="7.3">5</text><use href="#sb" x="-16" y="15.5"/><text class="st" x="-11.25" y="20.3">4</text></g>
<g id="g5-m3" transform="translate(21,89)"><use href="#mb"/><use href="#nb"/><text class="nn" x="51" y="14.2">3</text><text class="n b" x="4.5" y="6.3">Пырегов М. Б.</text><text class="r" x="4.5" y="10.3">R:564</text><text class="r" x="4.5" y="16">R:309</text><text class="s" x="35" y="15.3">3:0</text><text class="n" x="4.5" y="22">Бай Н. И.</text><use href="#sb" x="-16" y="2.5"/><text class="st" x="-11.25" y="7.3">3</text><use href="#sb" x="-16" y="15.5"/><text class="st" x="-11.25" y="20.3">6</text></g>
<g id="g5-m4" transform="translate(21,118.5)"><use href="#mb"/><use href="#nb"/><text class="nn" x="51" y="14.2">4</text><text class="n" x="4.5" y="6.3">Марков А. А.</text><text class="r" x="4.5" y="10.3">R:124</text><text class="r" x="4.5" y="16">R:666</text><text class="s" x="35" y="15.3">0:3</text><text class="n b" x="4.5" y="22">Савинская Ю. С.</text><use href="#sb" x="-16" y="2.5"/><text class="st" x="-11.25" y="7.3">7</text><use href="#sb" x="-16" y="15.5"/><text class="st" x="-11.25" y="20.3">2</text></g>
<g id="g5-m5" transform="translate(107,44.75)"><use href="#mb"/><use href="#nb"/><text class="nn" x="51" y="14.2">5</text><text class="n b" x="4.5" y="6.3">Адасенко К. С.</text><text class="r" x="4.5" y="10.3">R:704</text><text class="r" x="4.5" y="16">R:339</text><text class="s" x="35" y="15.3">3:0</text><text class="n" x="4.5" y="22">Новожилов В. В.</text></g>
<g id="g5-m6" transform="translate(107,103.75)"><use href="#mb"/><use href="#nb"/><text class="nn" x="51" y="14.2">6</text><text class="n" x="4.5" y="6.3">Пырегов М. Б.</text><text class="r" x="4.5" y="10.3">R:564</text><text class="r" x="4.5" y="16">R:666</text><text class="s" x="35" y="15.3">1:3</text><text class="n b" x="4.5" y="22">Савинская Ю. С.</text></g>
<g id="g5-m7" transform="translate(193,74.25)"><use href="#mb"/><use href="#nb"/><text class="nn" x="51" y="14.2">7</text><text class="n" x="4.5" y="6.3">Адасенко К. С.</text><text class="r" x="4.5" y="10.3">R:704</text><text class="r" x="4.5" y="16">R:666</text><text class="d" x="33" y="15.5">-</text><text class="n" x="4.5" y="22">Савинская Ю. С.</text></g>
<g id="g5-m8" transform="translate(21,166)"><use href="#mb"/><use href="#nb"/><text class="nn" x="51" y="14.2">8</text><text class="n" x="4.5" y="6.3">Левушкин М. Е.</text><text class="r" x="4.5" y="10.3">R:54</text><text class="r" x="4.5" y="16">R:520</text><text class="s" x="35" y="15.3">0:3</text><text class="n b" x="4.5" y="22">Песин И. А.</text><use href="#sb" x="-16" y="2.5"/><text class="st" x="-11.25" y="7.3">-1</text><use href="#sb" x="-16" y="15.5"/><text class="st" x="-11.25" y="20.3">-2</text></g>
<g id="g5-m9" transform="translate(21,195.5)"><use href="#mb"/><use href="#nb"/><text class="nn" x="51" y="14.2">9</text><text class="n" x="4.5" y="6.3">Бай Н. И.</text><text class="r" x="4.5" y="10.3">R:309</text><text class="r" x="4.5" y="16">R:124</text><text class="s" x="35" y="15.3">2:3</text><text class="n b" x="4.5" y="22">Марков А. А.</text><use href="#sb" x="-16" y="2.5"/><text class="st" x="-11.25" y="7.3">-3</text><use href="#sb" x="-16" y="15.5"/><text class="st" x="-11.25" y="20.3">-4</text></g>
<g id="g5-m10" transform="translate(107,166)"><use href="#mb"/><use href="#nb"/><text class="nn" x="51" y="14.2">10</text><text class="n b" x="4.5" y="6.3">Пырегов М. Б.</text><text class="r" x="4.5" y="10.3">R:564</text><text class="r" x="4.5" y="16">R:520</text><text class="s" x="35" y="15.3">3:1</text><text class="n" x="4.5" y="22">Песин И. А.</text><use href="#sb" x="-13" y="2.5"/><text class="st" x="-8.25" y="7.3">-6</text></g>
<g id="g5-m11" transform="translate(107,195.5)"><use href="#mb"/><use href="#nb"/><text class="nn" x="51" y="14.2">11</text><text class="n b" x="4.5" y="6.3">Новожилов В. В.</text><text class="r" x="4.5" y="10.3">R:339</text><text class="r" x="4.5" y="16">R:124</text><text class="s" x="35" y="15.3">3:0</text><text class="n" x="4.5" y="22">Марков А. А.</text><use href="#sb" x="-13" y="2.5"/><text class="st" x="-8.25" y="7.3">-5</text></g>
<g id="g5-m12" transform="translate(193,180.75)"><use href="#mb"/><use href="#nb"/><text class="nn" x="51" y="14.2">12</text><text class="n" x="4.5" y="6.3">Пырегов М. Б.</text><text class="r" x="4.5" y="10.3">R:564</text><text class="r" x="4.5" y="16">R:339</text><text class="d" x="33" y="15.5">-</text><text class="n" x="4.5" y="22">Новожилов В. В.</text></g>
<g id="g5-m14" transform="translate(21,242)"><use href="#mb"/><use href="#nb"/><text class="nn" x="51" y="14.2">14</text><text class="n" x="4.5" y="6.3">Левушкин М. Е.</text><text class="r" x="4.5" y="10.3">R:54</text><text class="r" x="4.5" y="16">R:309</text><text class="d" x="33" y="15.5">-</text><text class="n" x="4.5" y="22">Бай Н. И.</text><use href="#sb" x="-16" y="2.5"/><text class="st" x="-11.25" y="7.3">-8</text><use href="#sb" x="-16" y="15.5"/><text class="st" x="-11.25" y="20.3">-9</text></g>
<g id="g5-m13" transform="translate(107,242)"><use href="#mb"/><use href="#nb"/><text class="nn" x="51" y="14.2">13</text><text class="n" x="4.5" y="6.3">Песин И. А.</text><text class="r" x="4.5" y="10.3">R:520</text><text class="r" x="4.5" y="16">R:124</text><text class="d" x="33" y="15.5">-</text><text class="n" x="4.5" y="22">Марков А. А.</text><use href="#sb" x="-14" y="2.5"/><text class="st" x="-9.25" y="7.3">-10</text><use href="#sb" x="-14" y="15.5"/><text class="st" x="-9.25" y="20.3">-11</text></g>
</g>

<!-- ================= GROUP 6 ================= -->
<g id="group6" transform="translate(269,524)">
<rect class="fr" width="263" height="273"/>
<rect class="hd" width="263" height="10.5"/>
<text class="ti" x="8" y="8">Группа-6</text>
<rect class="pw" x="2.5" y="12" width="258" height="136"/>
<rect class="pb" x="2.5" y="150" width="258" height="74"/>
<rect class="py" x="2.5" y="225" width="84.5" height="45"/>
<rect class="py" x="89" y="225" width="84.5" height="45"/>
<g id="g6-rounds">
<use href="#pl" x="21" y="16"/><text class="pt" x="50" y="22">1/4</text>
<use href="#pl" x="107" y="16"/><text class="pt" x="136" y="22">1/2</text>
<use href="#pl" x="193" y="16"/><text class="pt" x="222" y="22">Финал</text>
<use href="#pl" x="21" y="153"/><text class="pt" x="50" y="159">3..8</text>
<use href="#pl" x="107" y="153"/><text class="pt" x="136" y="159">3..6</text>
<use href="#pl" x="193" y="153"/><text class="pt" x="222" y="159">3..4</text>
<use href="#pl" x="21" y="229"/><text class="pt" x="50" y="235">7..8</text>
<use href="#pl" x="107" y="229"/><text class="pt" x="136" y="235">5..6</text>
</g>
<g id="g6-connectors">
<path class="c" d="M14.5 35.5H21M14.5 48.5H21M14.5 65H21M14.5 78H21M14.5 94.5H21M14.5 107.5H21M14.5 124H21M14.5 137H21M14.5 171.5H21M14.5 184.5H21M14.5 201H21M14.5 214H21M103.5 171.5H107M103.5 201H107M14.5 247.5H21M14.5 260.5H21M102.5 247.5H107M102.5 260.5H107"/>
<path class="c" d="M87 42H94.7V71.5H87M94.7 56.75H107M87 101H94.7V130.5H87M94.7 115.75H107M176 56.75H181V115.75H176M181 86.25H193M90 184H107M90 213.5H107M176 178H181V207.5H176M181 192.75H193"/>
<text class="l" x="81.3" y="43.5">-8</text><text class="l" x="81.3" y="73">-8</text><text class="l" x="81.3" y="102.5">-9</text><text class="l" x="81.3" y="132">-9</text>
<text class="l" x="167.3" y="58.25">-11</text><text class="l" x="167.3" y="117.25">-10</text>
<text class="l" x="81.3" y="185.5">-14</text><text class="l" x="81.3" y="215">-14</text>
<text class="l" x="167.3" y="179.5">-13</text><text class="l" x="167.3" y="209">-13</text>
</g>
<g id="g6-m1" transform="translate(21,30)"><use href="#mb"/><use href="#nb"/><text class="nn" x="51" y="14.2">1</text><text class="n b" x="4.5" y="6.3">Гаспарян М. А.</text><text class="r" x="4.5" y="10.3">R:690</text><text class="r" x="4.5" y="16">R:65</text><text class="s" x="35" y="15.3">3:0</text><text class="n" x="4.5" y="22">Кошкин И. Д.</text><use href="#sb" x="-16" y="2.5"/><text class="st" x="-11.25" y="7.3">1</text><use href="#sb" x="-16" y="15.5"/><text class="st" x="-11.25" y="20.3">8</text></g>
<g id="g6-m2" transform="translate(21,59.5)"><use href="#mb"/><use href="#nb"/><text class="nn" x="51" y="14.2">2</text><text class="n" x="4.5" y="6.3">Свистун Н. В.</text><text class="r" x="4.5" y="10.3">R:224</text><text class="r" x="4.5" y="16">R:632</text><text class="s" x="35" y="15.3">2:3</text><text class="n b" x="4.5" y="22">Стефаненков Д....</text><use href="#sb" x="-16" y="2.5"/><text class="st" x="-11.25" y="7.3">5</text><use href="#sb" x="-16" y="15.5"/><text class="st" x="-11.25" y="20.3">4</text></g>
<g id="g6-m3" transform="translate(21,89)"><use href="#mb"/><use href="#nb"/><text class="nn" x="51" y="14.2">3</text><text class="n" x="4.5" y="6.3">Тарасенков С....</text><text class="r" x="4.5" y="10.3">R:541</text><text class="r" x="4.5" y="16">R:311</text><text class="s" x="35" y="15.3">0:3</text><text class="n b" x="4.5" y="22">Фадеев Д. С.</text><use href="#sb" x="-16" y="2.5"/><text class="st" x="-11.25" y="7.3">3</text><use href="#sb" x="-16" y="15.5"/><text class="st" x="-11.25" y="20.3">6</text></g>
<g id="g6-m4" transform="translate(21,118.5)"><use href="#mb"/><use href="#nb"/><text class="nn" x="51" y="14.2">4</text><text class="n" x="4.5" y="6.3">Тарасенков Д....</text><text class="r" x="4.5" y="10.3">R:97</text><text class="r" x="4.5" y="16">R:692</text><text class="s" x="35" y="15.3">0:3</text><text class="n b" x="4.5" y="22">Белозор М. А.</text><use href="#sb" x="-16" y="2.5"/><text class="st" x="-11.25" y="7.3">7</text><use href="#sb" x="-16" y="15.5"/><text class="st" x="-11.25" y="20.3">2</text></g>
<g id="g6-m5" transform="translate(107,44.75)"><use href="#mb"/><use href="#nb"/><text class="nn" x="51" y="14.2">5</text><text class="n b" x="4.5" y="6.3">Гаспарян М. А.</text><text class="r" x="4.5" y="10.3">R:690</text><text class="r" x="4.5" y="16">R:632</text><text class="s" x="35" y="15.3">3:1</text><text class="n" x="4.5" y="22">Стефаненков Д....</text></g>
<g id="g6-m6" transform="translate(107,103.75)"><use href="#mb"/><use href="#nb"/><text class="nn" x="51" y="14.2">6</text><text class="n" x="4.5" y="6.3">Фадеев Д. С.</text><text class="r" x="4.5" y="10.3">R:311</text><text class="r" x="4.5" y="16">R:692</text><text class="s" x="35" y="15.3">0:3</text><text class="n b" x="4.5" y="22">Белозор М. А.</text></g>
<g id="g6-m7" transform="translate(193,74.25)"><use href="#mb"/><use href="#nb"/><text class="nn" x="51" y="14.2">7</text><text class="n" x="4.5" y="6.3">Гаспарян М. А.</text><text class="r" x="4.5" y="10.3">R:690</text><text class="r" x="4.5" y="16">R:692</text><text class="d" x="33" y="15.5">-</text><text class="n" x="4.5" y="22">Белозор М. А.</text></g>
<g id="g6-m8" transform="translate(21,166)"><use href="#mb"/><use href="#nb"/><text class="nn" x="51" y="14.2">8</text><text class="n b" x="4.5" y="6.3">Кошкин И. Д.</text><text class="r" x="4.5" y="10.3">R:65</text><text class="r" x="4.5" y="16">R:224</text><text class="s" x="35" y="15.3">3:2</text><text class="n" x="4.5" y="22">Свистун Н. В.</text><use href="#sb" x="-16" y="2.5"/><text class="st" x="-11.25" y="7.3">-1</text><use href="#sb" x="-16" y="15.5"/><text class="st" x="-11.25" y="20.3">-2</text></g>
<g id="g6-m9" transform="translate(21,195.5)"><use href="#mb"/><use href="#nb"/><text class="nn" x="51" y="14.2">9</text><text class="n b" x="4.5" y="6.3">Тарасенков С....</text><text class="r" x="4.5" y="10.3">R:541</text><text class="r" x="4.5" y="16">R:97</text><text class="s" x="35" y="15.3">3:0</text><text class="n" x="4.5" y="22">Тарасенков Д....</text><use href="#sb" x="-16" y="2.5"/><text class="st" x="-11.25" y="7.3">-3</text><use href="#sb" x="-16" y="15.5"/><text class="st" x="-11.25" y="20.3">-4</text></g>
<g id="g6-m10" transform="translate(107,166)"><use href="#mb"/><use href="#nb"/><text class="nn" x="51" y="14.2">10</text><text class="n b" x="4.5" y="6.3">Фадеев Д. С.</text><text class="r" x="4.5" y="10.3">R:311</text><text class="r" x="4.5" y="16">R:65</text><text class="s" x="35" y="15.3">3:0</text><text class="n" x="4.5" y="22">Кошкин И. Д.</text><use href="#sb" x="-13" y="2.5"/><text class="st" x="-8.25" y="7.3">-6</text></g>
<g id="g6-m11" transform="translate(107,195.5)"><use href="#mb"/><use href="#nb"/><text class="nn" x="51" y="14.2">11</text><text class="n b" x="4.5" y="6.3">Стефаненков Д....</text><text class="r" x="4.5" y="10.3">R:632</text><text class="r" x="4.5" y="16">R:541</text><text class="s" x="35" y="15.3">3:0</text><text class="n" x="4.5" y="22">Тарасенков С....</text><use href="#sb" x="-13" y="2.5"/><text class="st" x="-8.25" y="7.3">-5</text></g>
<g id="g6-m12" transform="translate(193,180.75)"><use href="#mb"/><use href="#nb"/><text class="nn" x="51" y="14.2">12</text><text class="n" x="4.5" y="6.3">Фадеев Д. С.</text><text class="r" x="4.5" y="10.3">R:311</text><text class="r" x="4.5" y="16">R:632</text><text class="d" x="33" y="15.5">-</text><text class="n" x="4.5" y="22">Стефаненков Д....</text></g>
<g id="g6-m14" transform="translate(21,242)"><use href="#mb"/><use href="#nb"/><text class="nn" x="51" y="14.2">14</text><text class="n" x="4.5" y="6.3">Свистун Н. В.</text><text class="r" x="4.5" y="10.3">R:224</text><text class="r" x="4.5" y="16">R:97</text><text class="d" x="33" y="15.5">-</text><text class="n" x="4.5" y="22">Тарасенков Д....</text><use href="#sb" x="-16" y="2.5"/><text class="st" x="-11.25" y="7.3">-8</text><use href="#sb" x="-16" y="15.5"/><text class="st" x="-11.25" y="20.3">-9</text></g>
<g id="g6-m13" transform="translate(107,242)"><use href="#mb"/><use href="#nb"/><text class="nn" x="51" y="14.2">13</text><text class="n" x="4.5" y="6.3">Кошкин И. Д.</text><text class="r" x="4.5" y="10.3">R:65</text><text class="r" x="4.5" y="16">R:541</text><text class="d" x="33" y="15.5">-</text><text class="n" x="4.5" y="22">Тарасенков С....</text><use href="#sb" x="-14" y="2.5"/><text class="st" x="-9.25" y="7.3">-10</text><use href="#sb" x="-14" y="15.5"/><text class="st" x="-9.25" y="20.3">-11</text></g>
</g>
</svg>
